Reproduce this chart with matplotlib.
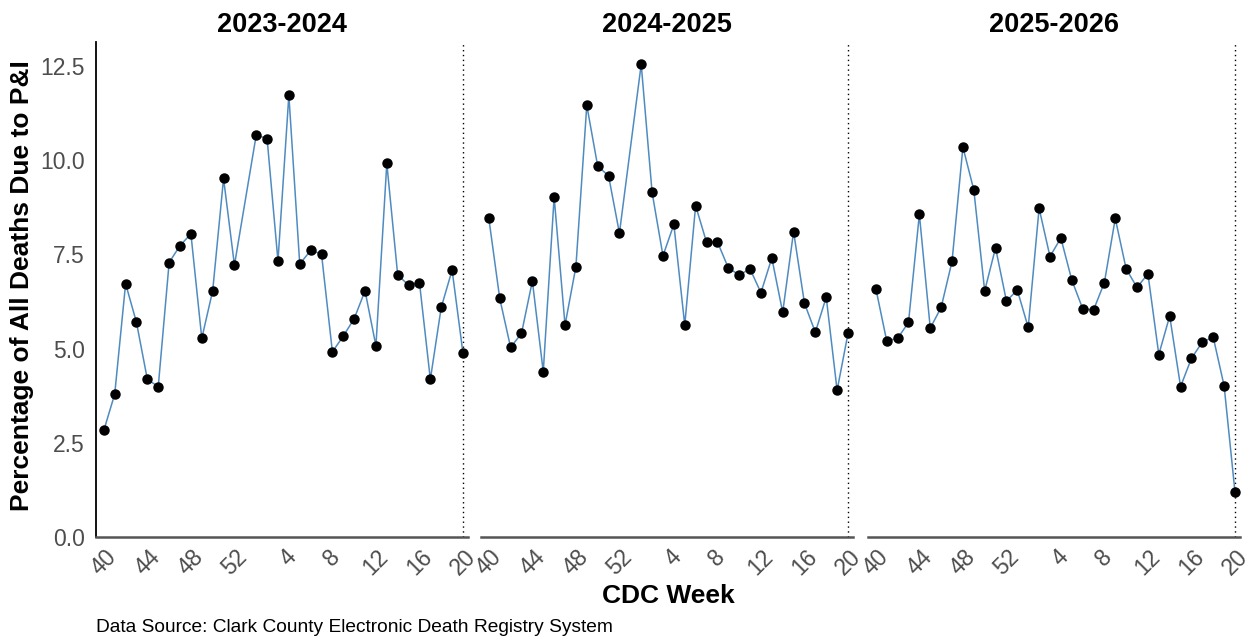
import numpy as np
import matplotlib.pyplot as plt

plt.rcParams['font.family'] = ['Liberation Sans', 'DejaVu Sans']

# weeks on the x axis: 40..53 then 1..20 (34 slots)
weeks = list(range(40, 54)) + list(range(1, 21))
tick_weeks = [40, 44, 48, 52, 4, 8, 12, 16, 20]

seasons = ['2023-2024', '2024-2025', '2025-2026']

# percentage of deaths due to P&I, None = no week 53 that season
pi_2023 = [2.83, 3.79, 6.72, 5.69, 4.18, 3.99, 7.28, 7.73, 8.04, 5.27, 6.53, 9.51, 7.21, None,
           10.66, 10.57, 7.32, 11.72, 7.24, 7.60, 7.51, 4.91, 5.33, 5.79, 6.53, 5.07, 9.91,
           6.95, 6.68, 6.75, 4.18, 6.09, 7.08, 4.87]
pi_2024 = [8.45, 6.33, 5.03, 5.40, 6.79, 4.38, 9.02, 5.62, 7.17, 11.45, 9.84, 9.58, 8.06, None,
           12.54, 9.14, 7.46, 8.29, 5.62, 8.79, 7.82, 7.83, 7.14, 6.95, 7.11, 6.48, 7.40,
           5.96, 8.10, 6.20, 5.43, 6.36, 3.89, 5.40]
pi_2025 = [6.59, 5.20, 5.27, 5.69, 8.56, 5.54, 6.09, 7.31, 10.34, 9.21, 6.53, 7.67, 6.26, 6.55,
           5.56, 8.72, 7.44, 7.93, 6.82, 6.06, 6.02, 6.75, 8.45, 7.11, 6.62, 6.98, 4.84,
           5.86, 3.99, 4.74, 5.17, 5.30, 4.01, 1.19]
series = [pi_2023, pi_2024, pi_2025]

W, H = 1253, 639
fig = plt.figure(figsize=(W / 100, H / 100), dpi=100)

lefts = [96, 481, 868]
pw = 372
top, bottom = 42, 537

slots = np.arange(len(weeks))
tick_pos = [weeks.index(w) for w in tick_weeks]

for i, (name, vals) in enumerate(zip(seasons, series)):
    ax = fig.add_axes([lefts[i] / W, (H - bottom) / H, pw / W, (bottom - top) / H])
    x = [s for s, v in zip(slots, vals) if v is not None]
    y = [v for v in vals if v is not None]
    ax.plot(x, y, color='#4F8BC0', lw=1.1, zorder=2)
    ax.plot(x, y, 'o', color='black', ms=6.5, zorder=3)
    ax.axvline(weeks.index(20), color='black', ls=(0, (1, 2.5)), lw=1, zorder=1)
    ax.set_xlim(-0.72, 33.46)
    ax.set_ylim(0, 13.13)
    ax.set_xticks(tick_pos)
    ax.set_xticklabels([str(w) for w in tick_weeks], rotation=45, ha='center',
                       fontsize=16.5, color='#4D4D4D')
    ax.tick_params(axis='x', length=0, pad=6)
    for s in ['top', 'right']:
        ax.spines[s].set_visible(False)
    ax.spines['bottom'].set_color('#555555')
    ax.spines['bottom'].set_linewidth(1.8)
    if i == 0:
        ax.set_yticks([0, 2.5, 5, 7.5, 10, 12.5])
        ax.set_yticklabels(['0.0', '2.5', '5.0', '7.5', '10.0', '12.5'],
                           fontsize=16.5, color='#4D4D4D')
        ax.spines['left'].set_color('black')
        ax.spines['left'].set_linewidth(1.3)
        ax.tick_params(axis='y', length=0, pad=8)
    else:
        ax.set_yticks([])
        ax.spines['left'].set_visible(False)
    ax.set_title(name, fontsize=19.5, fontweight='bold', pad=7)

fig.text(22 / W, 1 - 286 / H, 'Percentage of All Deaths Due to P&I', rotation=90,
         ha='center', va='center', fontsize=19, fontweight='bold')
fig.text(668 / W, 1 - 596 / H, 'CDC Week', ha='center', va='center',
         fontsize=19, fontweight='bold')
fig.text(96 / W, 1 - 628 / H, 'Data Source: Clark County Electronic Death Registry System',
         ha='left', va='center', fontsize=13.8)

fig.savefig('out.png', dpi=100, facecolor='white')
